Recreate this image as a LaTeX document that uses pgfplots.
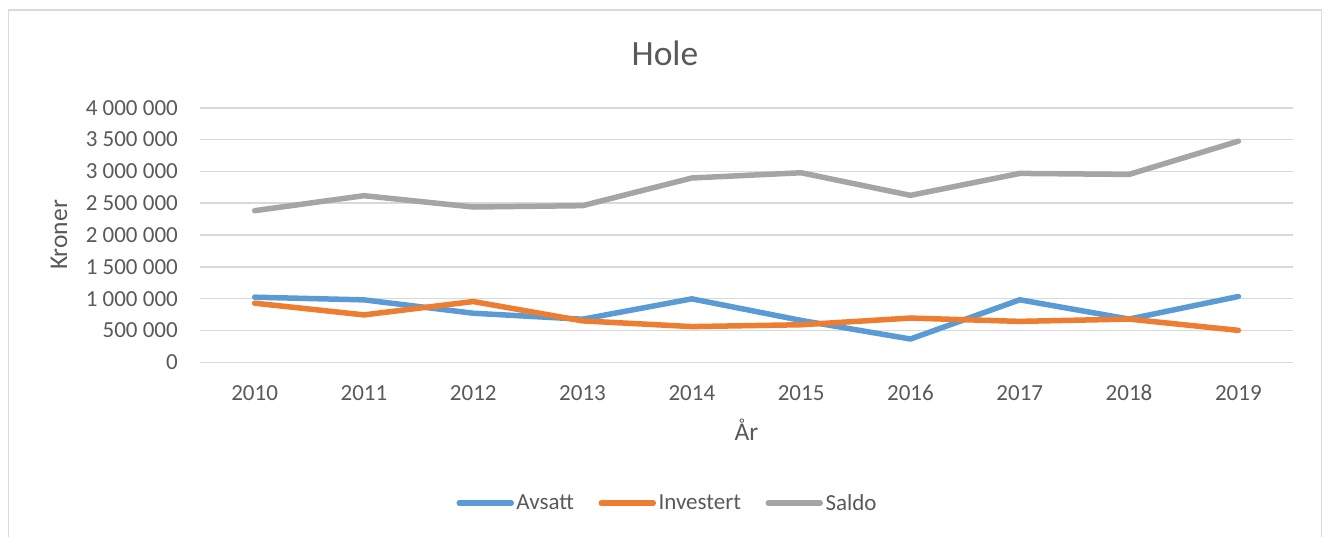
\documentclass[border=0pt]{standalone}
\usepackage{fontspec}
\setmainfont{Carlito}
\usepackage{pgfplots}
\pgfplotsset{compat=1.18}
\definecolor{cAv}{HTML}{5B9BD5}
\definecolor{cIn}{HTML}{ED7D31}
\definecolor{cSa}{HTML}{A5A5A5}
\definecolor{txt}{HTML}{595959}
\definecolor{grd}{HTML}{D9D9D9}
\begin{document}
\begin{tikzpicture}
\path[use as bounding box] (0pt,0pt) rectangle (1329pt,-536pt);
\draw[grd, line width=1.5pt] (8.5pt,-545pt) -- (8.5pt,-10pt) -- (1321.7pt,-10pt) -- (1321.7pt,-545pt);
\begin{axis}[
  at={(200pt,-362.3pt)}, anchor=south west,
  scale only axis, width=1093pt, height=254.6pt,
  xmin=-0.5, xmax=9.5, ymin=0, ymax=4000000,
  axis line style={draw=none},
  major tick length=0pt,
  xtick={0,...,9},
  xticklabels={2010,2011,2012,2013,2014,2015,2016,2017,2018,2019},
  ytick={0,500000,1000000,1500000,2000000,2500000,3000000,3500000,4000000},
  yticklabels={0,500 000,1 000 000,1 500 000,2 000 000,2 500 000,3 000 000,3 500 000,4 000 000},
  scaled y ticks=false,
  ymajorgrids,
  major grid style={grd, line width=1.6pt},
  /pgf/number format/assume math mode=true,
  yticklabel style={font=\fontsize{23}{27}\selectfont, text=txt, inner sep=0pt, anchor=east, xshift=-22pt},
  xticklabel style={font=\fontsize{23}{27}\selectfont, text=txt, inner sep=0pt, anchor=north, yshift=-22.7pt},
  title={Hole},
  title style={at={(0.4254,1.191)}, anchor=center, font=\fontsize{35.5}{40}\selectfont, text=txt},
  xlabel={År},
  xlabel style={at={(0.5,-0.265)}, anchor=center, font=\fontsize{25.5}{30}\selectfont, text=txt},
  ylabel={Kroner},
  ylabel style={at={(-0.129,0.5)}, anchor=center, font=\fontsize{25.5}{30}\selectfont, text=txt},
  legend columns=-1,
  legend style={at={(0.428,-0.553)}, anchor=center, draw=none, fill=none,
    font=\fontsize{23}{27}\selectfont, text=txt,
    /tikz/every even column/.append style={column sep=22pt},
    nodes={inner sep=2.5pt}},
  legend image code/.code={\draw[#1, line cap=round] (0pt,0pt) -- (52pt,0pt);},
  every axis plot/.append style={line width=5.5pt, line join=round, line cap=round, no markers},
]
\addplot[cAv] coordinates {(0,1023000) (1,981000) (2,771000) (3,677000) (4,997000) (5,658000) (6,366000) (7,982000) (8,679000) (9,1034000)};
\addlegendentry{Avsatt}
\addplot[cIn] coordinates {(0,929000) (1,745000) (2,955000) (3,651000) (4,561000) (5,590000) (6,695000) (7,643000) (8,679000) (9,502000)};
\addlegendentry{Investert}
\addplot[cSa] coordinates {(0,2382000) (1,2618000) (2,2440000) (3,2461000) (4,2896000) (5,2978000) (6,2623000) (7,2968000) (8,2952000) (9,3474000)};
\addlegendentry{Saldo}
\end{axis}
\end{tikzpicture}
\end{document}
